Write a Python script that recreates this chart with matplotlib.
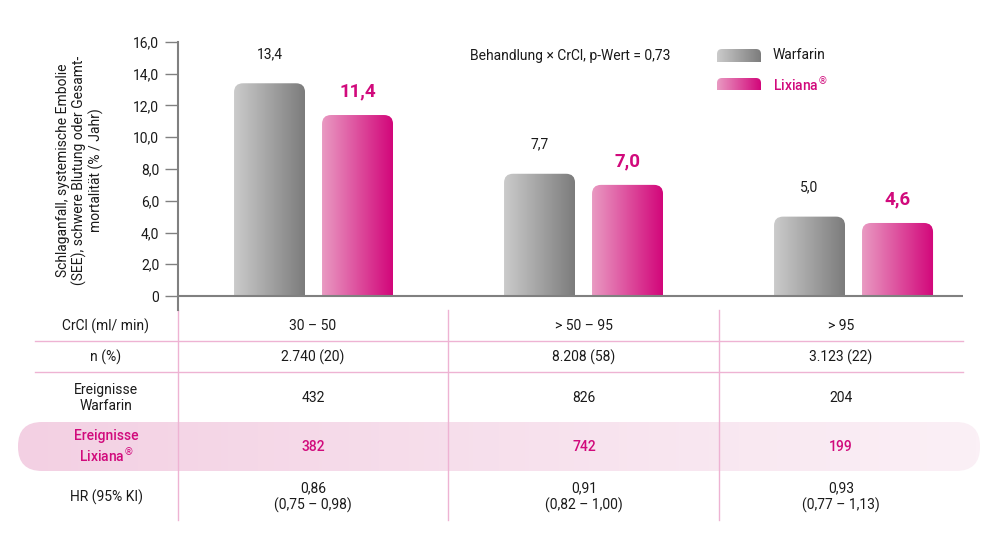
import matplotlib
matplotlib.use('Agg')
import matplotlib.pyplot as plt
import numpy as np
from matplotlib.patches import FancyBboxPatch
from matplotlib.colors import LinearSegmentedColormap
from matplotlib.lines import Line2D

plt.rcParams['font.family'] = ['Roboto', 'DejaVu Sans']

# data
groups = ['30 – 50', '> 50 – 95', '> 95']
warfarin = [13.4, 7.7, 5.0]
lixiana = [11.4, 7.0, 4.6]
n_pct = ['2.740 (20)', '8.208 (58)', '3.123 (22)']
events_warfarin = ['432', '826', '204']
events_lixiana = ['382', '742', '199']
hr = ['0,86\n(0,75 – 0,98)', '0,91\n(0,82 – 1,00)', '0,93\n(0,77 – 1,13)']
row_labels = ['CrCl (ml/ min)', 'n (%)', 'Ereignisse\nWarfarin', 'Ereignisse\nLixiana$^{®}$', 'HR (95% KI)']
yticks = [0, 2, 4, 6, 8, 10, 12, 14, 16]
ytick_labels = ['0', '2,0', '4,0', '6,0', '8,0', '10,0', '12,0', '14,0', '16,0']

PINK = '#d10a7c'
cm_gray = LinearSegmentedColormap.from_list('g', ['#cbcbcb', '#7c7c7c'])
cm_pink = LinearSegmentedColormap.from_list('p', ['#e99ac2', '#d2067a'])
cm_band = LinearSegmentedColormap.from_list('b', ['#f3d0e3', '#fbf0f6'])

fig = plt.figure(figsize=(10, 5.5), dpi=100)

# background axes in pixel coords for the table
bg = fig.add_axes([0, 0, 1, 1], zorder=0)
bg.set_xlim(0, 1000)
bg.set_ylim(550, 0)
bg.axis('off')

grad = np.linspace(0, 1, 256).reshape(1, -1)

band = FancyBboxPatch((18, 422), 962, 49, boxstyle='round,pad=0,rounding_size=24',
                      facecolor='none', edgecolor='none')
bg.add_patch(band)
im = bg.imshow(grad, cmap=cm_band, extent=[18, 980, 471, 422], aspect='auto')
im.set_clip_path(band)
bg.set_xlim(0, 1000)
bg.set_ylim(550, 0)

line_col = '#eeb3d3'
for y in [341, 372]:
    bg.add_line(Line2D([35, 963], [y, y], color=line_col, lw=1))
for x in [178, 448, 719]:
    bg.add_line(Line2D([x, x], [310, 520], color=line_col, lw=1))

row_y = [326, 357, 398, 447, 497]
col_x = [313, 584, 841]
for i, lab in enumerate(row_labels):
    c = PINK if i == 3 else '#1a1a1a'
    bg.text(106, row_y[i], lab, ha='center', va='center', fontsize=10, color=c,
            linespacing=1.25, fontweight='medium' if i == 3 else 'normal')
table_rows = [groups, n_pct, events_warfarin, events_lixiana, hr]
for i, row in enumerate(table_rows):
    c = PINK if i == 3 else '#1a1a1a'
    for j, val in enumerate(row):
        bg.text(col_x[j], row_y[i], val, ha='center', va='center', fontsize=10, color=c,
                linespacing=1.25, fontweight='medium' if i == 3 else 'normal')

# y axis title
bg.text(80, 170, 'Schlaganfall, systemische Embolie\n(SEE), schwere Blutung oder Gesamt-\nmortalität (% / Jahr)',
        rotation=90, ha='center', va='center', fontsize=10, color='#1a1a1a',
        linespacing=1.15, multialignment='center')

# main chart axes
ax = fig.add_axes([0.178, 1 - 310 / 550, 0.785, (310 - 42) / 550], zorder=1)
ax.patch.set_alpha(0)
x0 = -0.502
x1 = x0 + 785 / 270
y0 = -(310 - 296) / 15.875
ax.set_xlim(x0, x1)
ax.set_ylim(y0, 16)

aspect = 270 / 15.875
w = 71 / 270
off = 44 / 270
r = 9 / 270


def grad_bar(ax, left, bottom, width, height, cmap, rr=r):
    p = FancyBboxPatch((left, bottom - 2), width, height + 2,
                       boxstyle='round,pad=0,rounding_size=%f' % rr,
                       mutation_aspect=aspect, facecolor='none', edgecolor='none')
    ax.add_patch(p)
    img = ax.imshow(grad, cmap=cmap, extent=[left, left + width, bottom, bottom + height],
                    aspect='auto', zorder=2)
    img.set_clip_path(p)


xs = np.arange(len(groups))
for i in range(len(groups)):
    grad_bar(ax, xs[i] - off - w / 2, 0, w, warfarin[i], cm_gray)
    grad_bar(ax, xs[i] + off - w / 2, 0, w, lixiana[i], cm_pink)
    ax.annotate(('%.1f' % warfarin[i]).replace('.', ','), (xs[i] - off, warfarin[i]),
                xytext=(0, 21), textcoords='offset points', ha='center', va='center',
                fontsize=10, color='#1a1a1a')
    ax.annotate(('%.1f' % lixiana[i]).replace('.', ','), (xs[i] + off, lixiana[i]),
                xytext=(0, 17), textcoords='offset points', ha='center', va='center',
                fontsize=13.5, color=PINK, fontweight='bold')

ax.set_xlim(x0, x1)
ax.set_ylim(y0, 16)

# legend swatches
lx = (717 - 178) / 270 + x0
grad_bar(ax, lx, (296 - 62) / 15.875, 44 / 270, 13 / 15.875, cm_gray, rr=5 / 270)
grad_bar(ax, lx, (296 - 90) / 15.875, 44 / 270, 12 / 15.875, cm_pink, rr=5 / 270)
ax.text((773 - 178) / 270 + x0, (296 - 55) / 15.875, 'Warfarin', fontsize=10,
        va='center', ha='left', color='#1a1a1a')
ax.text((773 - 178) / 270 + x0, (296 - 85) / 15.875, 'Lixiana$^{®}$', fontsize=10,
        va='center', ha='left', color=PINK, fontweight='medium')
ax.text((470 - 178) / 270 + x0, (296 - 56) / 15.875, 'Behandlung × CrCl, p-Wert = 0,73',
        fontsize=10, va='center', ha='left', color='#1a1a1a')
ax.set_xlim(x0, x1)
ax.set_ylim(y0, 16)

ax.axhline(0, color='#808080', lw=1.5, zorder=3)
for s in ['top', 'right', 'bottom']:
    ax.spines[s].set_visible(False)
ax.spines['left'].set_color('#808080')
ax.spines['left'].set_linewidth(1.5)
ax.set_xticks([])
ax.set_yticks(yticks)
ax.set_yticklabels(ytick_labels)
ax.tick_params(axis='y', direction='out', length=9.5, width=1, color='#808080',
               labelsize=10, labelcolor='#1a1a1a', pad=4)

fig.savefig('out.png', dpi=100)
